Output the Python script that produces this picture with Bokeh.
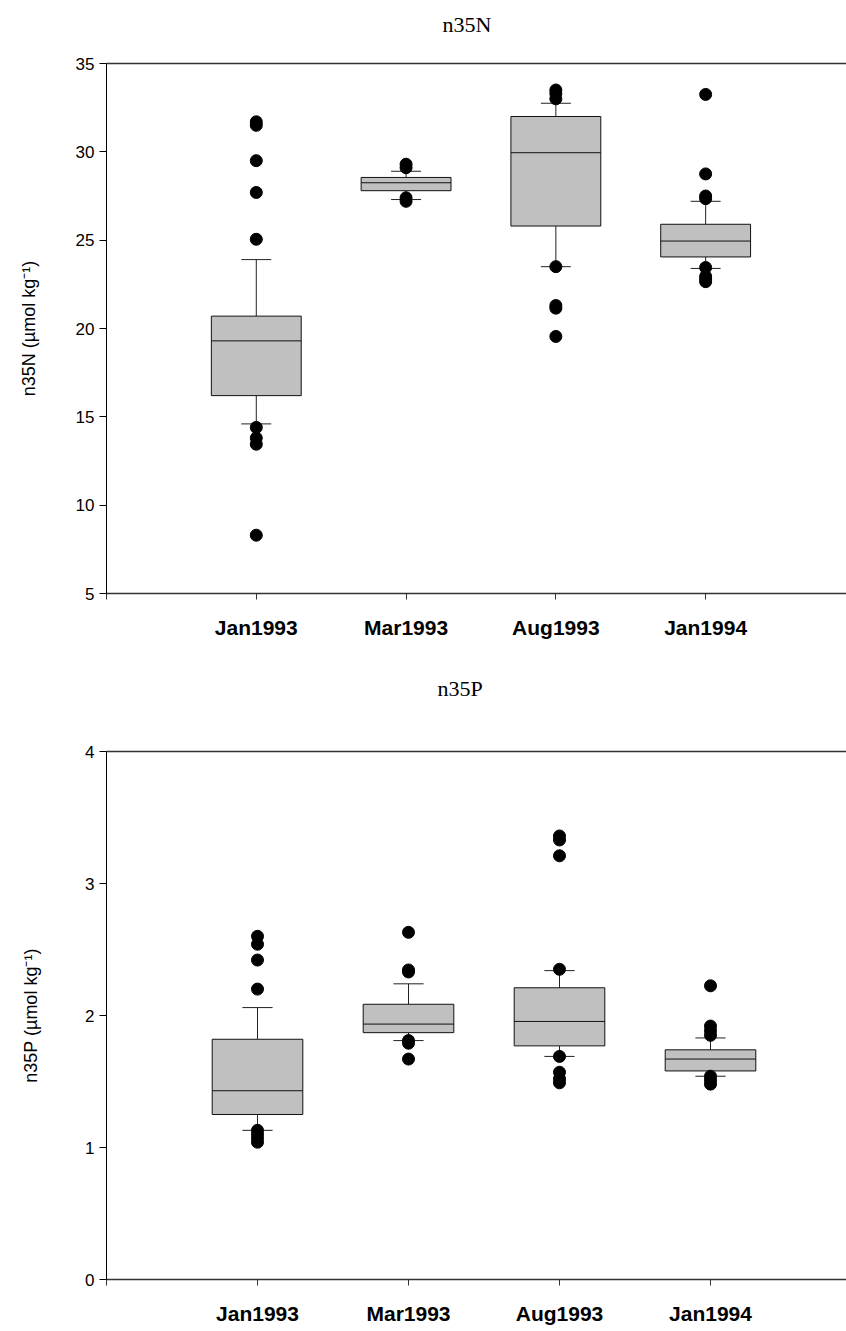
from bokeh.plotting import figure
from bokeh.layouts import column
from bokeh.models import Range1d, FixedTicker, LinearAxis, Title
from bokeh.embed import file_html
from bokeh.resources import INLINE

# Sampling cruises (x categories)
categories = ["Jan1993", "Mar1993", "Aug1993", "Jan1994"]

# n35N box statistics (µmol kg-1)
n_q1 = [16.2, 27.8, 25.8, 24.05]
n_med = [19.3, 28.25, 29.95, 24.95]
n_q3 = [20.7, 28.55, 32.0, 25.9]
n_whisk_lo = [14.6, 27.3, 23.5, 23.4]
n_whisk_hi = [23.9, 28.9, 32.75, 27.2]
n_outliers = [
    [31.7, 31.5, 29.5, 27.7, 25.05, 14.4, 13.8, 13.45, 8.3],
    [29.3, 29.1, 27.4, 27.2],
    [33.5, 33.3, 33.0, 23.5, 21.3, 21.15, 19.55],
    [33.25, 28.75, 27.5, 27.35, 23.45, 22.95, 22.8, 22.65],
]
n_ticks = [5, 10, 15, 20, 25, 30, 35]

# n35P box statistics (µmol kg-1)
p_q1 = [1.25, 1.87, 1.77, 1.58]
p_med = [1.43, 1.935, 1.955, 1.67]
p_q3 = [1.82, 2.085, 2.21, 1.74]
p_whisk_lo = [1.13, 1.81, 1.69, 1.54]
p_whisk_hi = [2.06, 2.24, 2.34, 1.83]
p_outliers = [
    [2.6, 2.54, 2.42, 2.2, 1.13, 1.1, 1.07, 1.04],
    [2.63, 2.345, 2.33, 1.81, 1.79, 1.67],
    [3.36, 3.33, 3.21, 2.35, 1.69, 1.57, 1.52, 1.49],
    [2.225, 1.92, 1.885, 1.85, 1.54, 1.51, 1.48],
]
p_ticks = [0, 1, 2, 3, 4]

BOX_W = 0.6
CAP_W = 0.2
PX_PER_CAT = 151.0
SANS = "Liberation Sans"
SERIF = "Liberation Serif"


def box_panel(title, ylabel, q1, med, q3, lo, hi, outliers, yticks,
              height, left, top, bottom, title_gap, title_left,
              label_standoff, x_label_standoff):
    pos = [i + 1 for i in range(len(categories))]
    ymin, ymax = yticks[0], yticks[-1]
    xmax = (846 - left) / PX_PER_CAT
    p = figure(width=846, height=height, output_backend="svg", toolbar_location=None,
               x_range=Range1d(0, xmax), y_range=Range1d(ymin, ymax),
               min_border_left=left, min_border_right=0,
               min_border_top=top, min_border_bottom=bottom)
    p.outline_line_color = None
    p.xgrid.visible = False
    p.ygrid.visible = False
    p.background_fill_color = "white"
    p.border_fill_color = "white"

    # whiskers and caps
    p.segment(x0=pos, y0=q3, x1=pos, y1=hi, line_color="#222222", line_width=1)
    p.segment(x0=pos, y0=q1, x1=pos, y1=lo, line_color="#222222", line_width=1)
    p.segment(x0=[x - CAP_W / 2 for x in pos], y0=hi, x1=[x + CAP_W / 2 for x in pos], y1=hi,
              line_color="#222222", line_width=1)
    p.segment(x0=[x - CAP_W / 2 for x in pos], y0=lo, x1=[x + CAP_W / 2 for x in pos], y1=lo,
              line_color="#222222", line_width=1)
    # boxes and medians
    p.vbar(x=pos, width=BOX_W, bottom=q1, top=q3, fill_color="#c0c0c0",
           line_color="#111111", line_width=1)
    p.segment(x0=[x - BOX_W / 2 for x in pos], y0=med, x1=[x + BOX_W / 2 for x in pos], y1=med,
              line_color="#111111", line_width=1)
    # outliers
    ox = [pos[i] for i, vals in enumerate(outliers) for _ in vals]
    oy = [v for vals in outliers for v in vals]
    p.scatter(x=ox, y=oy, size=12, fill_color="black", line_color="black")

    # left axis
    ya = p.yaxis[0]
    ya.ticker = FixedTicker(ticks=yticks)
    ya.minor_tick_line_color = None
    ya.major_tick_out = 7
    ya.major_tick_in = 0
    ya.axis_line_color = "black"
    ya.major_tick_line_color = "black"
    ya.major_label_text_font = SANS
    ya.major_label_text_font_size = "17px"
    ya.major_label_text_color = "black"
    ya.major_label_standoff = 5
    ya.axis_label = ylabel
    ya.axis_label_text_font = SANS
    ya.axis_label_text_font_size = "18px"
    ya.axis_label_text_font_style = "normal"
    ya.axis_label_text_color = "black"
    ya.axis_label_standoff = label_standoff

    # bottom category axis
    xa = p.xaxis[0]
    xa.ticker = FixedTicker(ticks=[0] + pos)
    overrides = {0: ""}
    overrides.update({x: c for x, c in zip(pos, categories)})
    xa.major_label_overrides = overrides
    xa.minor_tick_line_color = None
    xa.major_tick_out = 6
    xa.major_tick_in = 0
    xa.axis_line_color = "#333333"
    xa.axis_line_width = 1.5
    xa.major_tick_line_color = "#333333"
    xa.major_label_text_font = SANS
    xa.major_label_text_font_size = "21px"
    xa.major_label_text_font_style = "bold"
    xa.major_label_text_color = "black"
    xa.major_label_standoff = x_label_standoff

    # top frame line; one invisible tick gives it height, leaving room under the title
    ta = LinearAxis(ticker=FixedTicker(ticks=[pos[0]]), major_tick_out=title_gap, major_tick_in=0,
                    major_tick_line_color=None, minor_tick_line_color=None,
                    major_label_overrides={pos[0]: ""}, major_label_standoff=0,
                    major_label_text_font_size="1px",
                    axis_line_color="#333333", axis_line_width=1.5)
    p.add_layout(ta, "above")

    # panel title
    p.add_layout(Title(text=title, align="left", offset=title_left - left,
                       standoff=10, text_font=SERIF, text_font_size="22px",
                       text_font_style="normal", text_color="black"), "above")
    return p


p1 = box_panel("n35N", "n35N (µmol kg⁻¹)", n_q1, n_med, n_q3, n_whisk_lo, n_whisk_hi,
               n_outliers, n_ticks, height=660, left=100, top=63, bottom=67,
               title_gap=22, title_left=436, label_standoff=34, x_label_standoff=16)
p2 = box_panel("n35P", "n35P (µmol kg⁻¹)", p_q1, p_med, p_q3, p_whisk_lo, p_whisk_hi,
               p_outliers, p_ticks, height=671, left=106, top=91, bottom=52,
               title_gap=46, title_left=437, label_standoff=41, x_label_standoff=16)

layout = column(p1, p2, spacing=0)
open("out.html", "w").write(file_html(layout, INLINE))
